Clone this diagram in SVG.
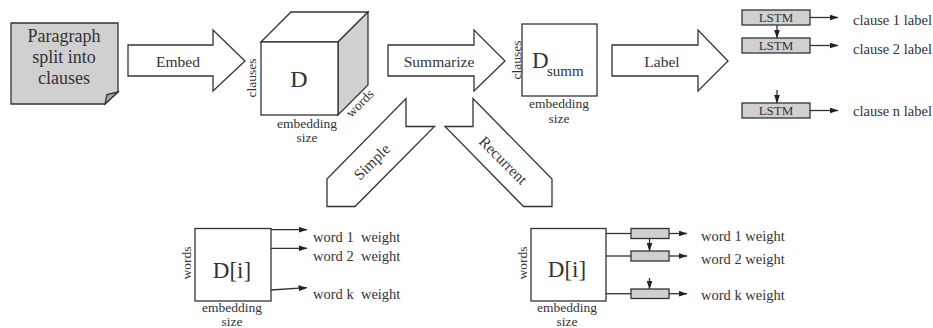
<svg xmlns="http://www.w3.org/2000/svg" width="933" height="328" viewBox="0 0 933 328">
<defs>
<style>
text{font-family:"Liberation Serif","Times New Roman",serif;fill:#333;}
.ln{fill:none;stroke:#333;stroke-width:1.3;}
.sh{stroke:#333;stroke-width:1.3;stroke-linejoin:miter;}
.wf{fill:#fff;}
.gf{fill:#d0d0d0;}
.big{font-size:18px;}
.arr{font-size:15.5px;}
.sm{font-size:13.5px;}
.lab{font-size:14.5px;}
.mid{text-anchor:middle;}
</style>
<marker id="ah" markerWidth="9" markerHeight="6" refX="8.5" refY="3" orient="auto" markerUnits="userSpaceOnUse">
<path d="M0,0 L9,3 L0,6 Z" fill="#222"/>
</marker>
</defs>
<rect width="933" height="328" fill="#fff"/>

<g id="paragraph">
<polygon class="sh gf" points="11,23 118,23 118,92 105,104 11,104"/>
<polygon class="sh" fill="#a8a8a8" points="118,92 105,104 107,94.5"/>
<text class="big mid" x="64" y="41.5">Paragraph</text>
<text class="big mid" x="64" y="62.5">split into</text>
<text class="big mid" x="64" y="83.5">clauses</text>
</g>

<g id="cube">
<polygon class="sh wf" points="261,42 291,12 368,12 338,42"/>
<polygon class="sh gf" points="338,42 368,12 368,85 338,115"/>
<rect class="sh wf" x="261" y="42" width="77" height="73"/>
<text class="mid" style="font-size:24px" x="299" y="87">D</text>
<text class="sm mid" transform="translate(255.5,78) rotate(-90)">clauses</text>
<text class="sm mid" transform="translate(363,106.5) rotate(-45)">words</text>
<text class="sm mid" x="307" y="127.5">embedding</text>
<text class="sm mid" x="307" y="141.5">size</text>
</g>

<g id="dsumm">
<rect class="sh wf" x="522" y="24" width="75" height="72"/>
<text style="font-size:23px" x="532" y="68">D</text>
<text style="font-size:15px" x="547" y="76">summ</text>
<text class="sm mid" transform="translate(520.5,60) rotate(-90)">clauses</text>
<text class="sm mid" x="559" y="108">embedding</text>
<text class="sm mid" x="559" y="122.5">size</text>
</g>

<g id="lstm1">
<rect class="sh gf" x="742" y="10" width="68" height="15"/>
<text class="mid" style="font-size:13px" x="776" y="22">LSTM</text>
</g>
<g id="lstm2">
<rect class="sh gf" x="742" y="38" width="68" height="15"/>
<text class="mid" style="font-size:13px" x="776" y="50">LSTM</text>
</g>
<g id="lstm3">
<rect class="sh gf" x="742" y="103" width="68" height="15"/>
<text class="mid" style="font-size:13px" x="776" y="115">LSTM</text>
</g>
<g id="clause-labels">
<text class="lab" x="853" y="25">clause 1 label</text>
<text class="lab" x="853" y="54">clause 2 label</text>
<text class="lab" x="853" y="116">clause n label</text>
</g>

<g id="di-simple">
<rect class="sh wf" x="195" y="228.5" width="76" height="72.5"/>
<text class="mid" style="font-size:23px" x="232" y="277.5">D[i]</text>
<text class="sm mid" transform="translate(190.5,263) rotate(-90)">words</text>
<text class="sm mid" x="232" y="311.5">embedding</text>
<text class="sm mid" x="232" y="325.5">size</text>
<text class="lab" x="313" y="241.5" xml:space="preserve">word 1  weight</text>
<text class="lab" x="313" y="260.5" xml:space="preserve">word 2  weight</text>
<text class="lab" x="313" y="299" xml:space="preserve">word k  weight</text>
</g>

<g id="di-recurrent">
<rect class="sh wf" x="531" y="228.5" width="75" height="72.5"/>
<text class="mid" style="font-size:23px" x="567" y="277">D[i]</text>
<text class="sm mid" transform="translate(526.5,263) rotate(-90)">words</text>
<text class="sm mid" x="567" y="311.5">embedding</text>
<text class="sm mid" x="567" y="325.5">size</text>
<rect class="sh gf" x="631" y="228.5" width="38" height="10"/>
<rect class="sh gf" x="631" y="251" width="38" height="10"/>
<rect class="sh gf" x="631" y="289" width="38" height="9.5"/>
<text class="lab" x="701" y="241">word 1 weight</text>
<text class="lab" x="701" y="263.5">word 2 weight</text>
<text class="lab" x="701" y="300">word k weight</text>
</g>

<g id="block-arrows">
<g id="embed">
<polygon class="sh wf" points="128,45 213,45 213,30 245,61 213,91 213,76 128,76"/>
<text class="arr mid" x="178" y="66.5">Embed</text>
</g>
<g id="summarize">
<polygon class="sh wf" points="388,45 474,45 474,30 505,61 474,91 474,76 388,76"/>
<text class="arr mid" x="439" y="66.5">Summarize</text>
</g>
<g id="label">
<polygon class="sh wf" points="612,45 698,45 698,30 728,61 698,91 698,76 612,76"/>
<text class="arr mid" x="662" y="66.5">Label</text>
</g>
<g id="simple">
<polygon class="sh wf" points="406,98.5 406,126.5 434.5,126.5 355,206.5 327,206.5 327,179"/>
<text class="arr mid" transform="translate(375.5,165.5) rotate(-45)">Simple</text>
</g>
<g id="recurrent">
<polygon class="sh wf" points="473,98.5 473,126.5 445,126.5 523.5,206.5 552,206.5 552,179"/>
<text class="arr mid" transform="translate(499.5,164) rotate(45)">Recurrent</text>
</g>
</g>

<g id="connectors">
<line class="ln" x1="810" y1="17.5" x2="838" y2="17.5" marker-end="url(#ah)"/>
<line class="ln" x1="810" y1="45.5" x2="838" y2="45.5" marker-end="url(#ah)"/>
<line class="ln" x1="810" y1="110.5" x2="838" y2="110.5" marker-end="url(#ah)"/>
<line class="ln" x1="777" y1="25" x2="777" y2="38" marker-end="url(#ah)"/>
<line class="ln" x1="777" y1="90" x2="777" y2="103" marker-end="url(#ah)"/>

<line class="ln" x1="271" y1="229.7" x2="307" y2="229.7" marker-end="url(#ah)"/>
<line class="ln" x1="271" y1="248.3" x2="307" y2="248.3" marker-end="url(#ah)"/>
<line class="ln" x1="271" y1="290" x2="307" y2="287.7" marker-end="url(#ah)"/>

<line class="ln" x1="606" y1="233.5" x2="631" y2="233.5"/>
<line class="ln" x1="606" y1="256" x2="631" y2="256"/>
<line class="ln" x1="606" y1="293.7" x2="631" y2="293.7"/>
<line class="ln" x1="669" y1="233.5" x2="687" y2="233.5" marker-end="url(#ah)"/>
<line class="ln" x1="669" y1="256" x2="687" y2="256" marker-end="url(#ah)"/>
<line class="ln" x1="669" y1="293.7" x2="687" y2="293.7" marker-end="url(#ah)"/>
<line class="ln" x1="649.5" y1="238.5" x2="649.5" y2="251" marker-end="url(#ah)"/>
<line class="ln" x1="649.5" y1="278" x2="649.5" y2="289" marker-end="url(#ah)"/>
</g>
</svg>
